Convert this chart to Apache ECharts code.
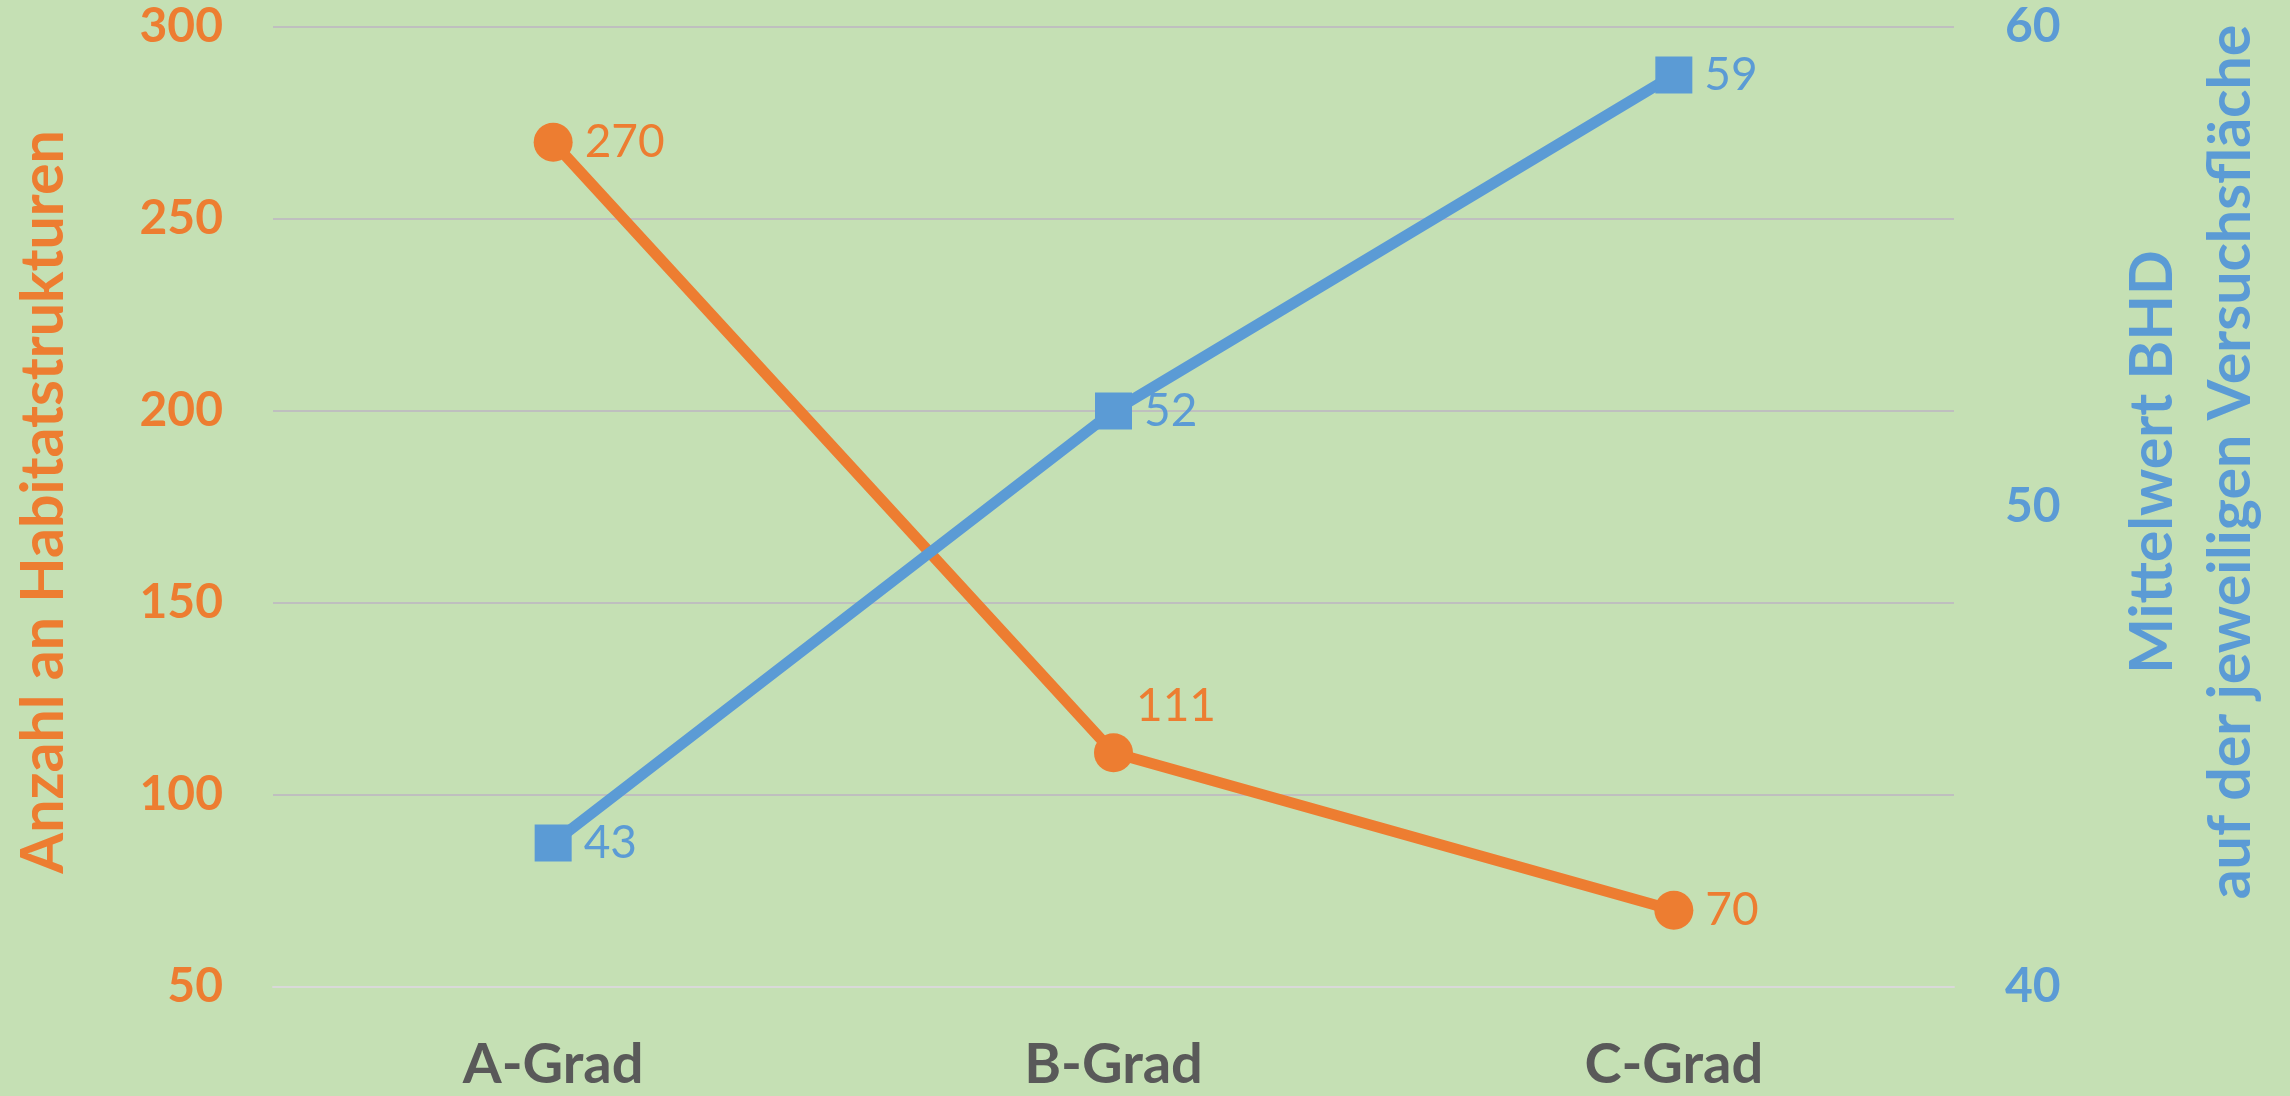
<!DOCTYPE html>
<html>
<head>
<meta charset="utf-8">
<script src="https://cdn.jsdelivr.net/npm/echarts@6/dist/echarts.min.js"></script>
<style>
  html, body { margin: 0; padding: 0; background: #C5E0B4; }
  #chart { width: 2290px; height: 1096px; }
</style>
</head>
<body>
<div id="chart"></div>
<script>
var categories = ['A-Grad', 'B-Grad', 'C-Grad'];
var habitatCounts = [270, 111, 70];
var meanBHD = [43, 52, 59];
var leftTicks = { min: 50, max: 300, interval: 50 };
var rightTicks = { min: 40, max: 60, interval: 10 };

var orange = '#ED7D31';
var blue = '#5B9BD5';
var font = 'Lato';

var chart = echarts.init(document.getElementById('chart'));

// label of the middle orange point sits above-right of its marker
var habitatData = habitatCounts.map(function (v, i) {
    if (i === 1) {
        return { value: v, label: { position: 'right', distance: 3, offset: [0, -47] } };
    }
    return v;
});

var option = {
    backgroundColor: '#C5E0B4',
    animation: false,
    grid: { left: 273, right: 2290 - 1954, top: 27, bottom: 1096 - 987, containLabel: false },
    xAxis: {
        type: 'category',
        data: categories,
        boundaryGap: true,
        axisLine: { show: true, lineStyle: { color: '#D9D9D9', width: 2 } },
        axisTick: { show: false },
        axisLabel: { color: '#595959', fontFamily: font, fontWeight: 'bold', fontSize: 56, margin: 50 }
    },
    yAxis: [{
        type: 'value',
        min: leftTicks.min, max: leftTicks.max, interval: leftTicks.interval,
        name: 'Anzahl an Habitatstrukturen',
        nameLocation: 'middle',
        nameRotate: 90,
        nameGap: 200,
        nameTextStyle: { color: orange, fontFamily: font, fontWeight: 'bold', fontSize: 59, padding: [0, 0, 0, 10] },
        axisLine: { show: false },
        axisTick: { show: false },
        axisLabel: { color: orange, fontFamily: font, fontWeight: 'bold', fontSize: 48, margin: 50 },
        splitLine: { lineStyle: { color: '#BFBFBF', width: 2 } }
    }, {
        type: 'value',
        position: 'right',
        min: rightTicks.min, max: rightTicks.max, interval: rightTicks.interval,
        name: 'Mittelwert BHD\nauf der jeweiligen Versuchsfläche',
        nameLocation: 'middle',
        nameRotate: 90,
        nameGap: 160,
        nameTextStyle: { color: blue, fontFamily: font, fontWeight: 'bold', fontSize: 59, lineHeight: 78, padding: [0, 0, 0, 90] },
        axisLine: { show: false },
        axisTick: { show: false },
        axisLabel: { color: blue, fontFamily: font, fontWeight: 'bold', fontSize: 48, margin: 51 },
        splitLine: { show: false }
    }],
    series: [{
        name: 'Habitatstrukturen',
        type: 'line',
        yAxisIndex: 0,
        data: habitatData,
        symbol: 'circle',
        symbolSize: 39,
        lineStyle: { color: orange, width: 11 },
        itemStyle: { color: orange },
        label: { show: true, position: 'right', distance: 12, color: orange, fontFamily: font, fontSize: 46 },
        z: 2
    }, {
        name: 'BHD',
        type: 'line',
        yAxisIndex: 1,
        data: meanBHD,
        symbol: 'rect',
        symbolSize: 37,
        lineStyle: { color: blue, width: 11 },
        itemStyle: { color: blue },
        label: { show: true, position: 'right', distance: 12, color: blue, fontFamily: font, fontSize: 46 },
        z: 3
    }]
};

chart.setOption(option);
</script>
</body>
</html>
